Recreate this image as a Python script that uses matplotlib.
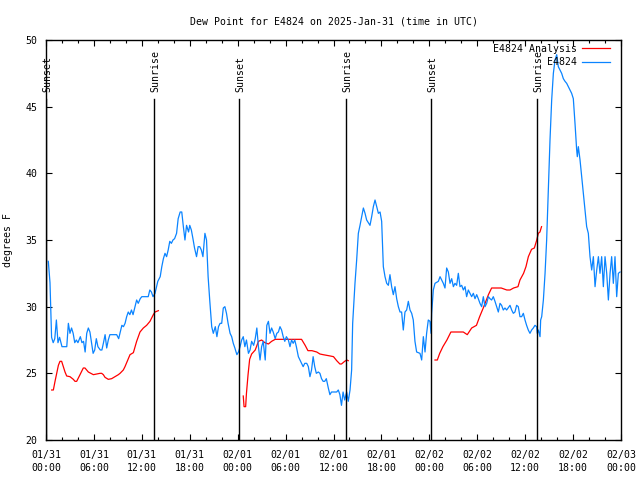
import numpy as np
import matplotlib
matplotlib.use("Agg")
import matplotlib.pyplot as plt

# ---- data (hours since 2025-01-31 00:00 UTC, dew point in F) ----
blue_h = [0.29, 0.5, 0.7, 0.9, 1.1, 1.3, 1.5, 1.7, 2.0, 2.6, 2.8, 3.0, 3.2, 3.4, 3.6, 3.8, 4.0,
          4.3, 4.5, 4.7, 4.9, 5.1, 5.3, 5.5, 5.7, 5.9, 6.1, 6.3, 6.5, 6.8, 7.0, 7.2, 7.4, 7.6,
          7.8, 8.0, 8.85, 9.1, 9.3, 9.5, 9.7, 9.9, 10.1, 10.3, 10.5, 10.7, 10.9, 11.1, 11.35,
          11.55, 11.8, 12.0, 12.8, 13.0, 13.2, 13.4, 13.65, 13.85, 14.0, 14.3, 14.5, 14.7,
          14.9, 15.1, 15.3, 15.5, 15.7, 15.9, 16.1, 16.35, 16.55, 16.8, 17.0, 17.2, 17.4,
          17.6, 17.85, 18.0, 18.2, 18.4, 18.6, 18.85, 19.05, 19.25, 19.45, 19.65, 19.9, 20.1,
          20.3, 20.5, 20.75, 20.95, 21.2, 21.4, 21.6, 21.8, 22.0, 22.2, 22.4, 22.6, 22.8,
          23.05, 23.25, 23.45, 23.65, 23.9, 24.1, 24.3, 24.5, 24.7, 24.9, 25.1, 25.35, 25.55,
          25.75, 26.0, 26.2, 26.4, 26.6, 26.8, 27.0, 27.2, 27.45, 27.65, 27.85, 28.05, 28.25,
          28.45, 28.7, 28.9, 29.1, 29.3, 29.5, 29.7, 29.9, 30.1, 30.35, 30.55, 30.75, 30.95,
          31.15, 31.35, 31.6, 31.8, 32.0, 32.2, 32.4, 32.65, 32.85, 33.05, 33.25, 33.45,
          33.65, 33.85, 34.1, 34.3, 34.5, 34.7, 34.9, 35.1, 35.35, 35.55, 35.75, 36.4, 36.6,
          36.8, 37.0, 37.2, 37.4, 37.65, 37.85, 38.07, 38.27, 38.4, 38.57, 38.69, 38.9,
          39.11, 39.32, 39.53, 39.74, 39.95, 40.15, 40.57, 40.78, 40.99, 41.2, 41.41, 41.62,
          41.83, 42.03, 42.24, 42.45, 42.66, 42.87, 43.07, 43.28, 43.49, 43.7, 43.91, 44.12,
          44.33, 44.53, 44.74, 44.95, 45.16, 45.37, 45.58, 45.79, 45.99, 46.2, 46.41, 46.83,
          47.04, 47.25, 47.46, 47.66, 47.87, 48.08, 48.21, 48.29, 48.5, 48.71, 49.13, 49.34,
          49.55, 49.75, 49.96, 50.17, 50.38, 50.59, 50.8, 51.01, 51.21, 51.42, 51.63, 51.84,
          52.05, 52.26, 52.47, 52.67, 52.88, 53.09, 53.3, 53.51, 53.72, 53.93, 54.13, 54.34,
          54.55, 54.76, 54.97, 55.18, 55.39, 55.59, 55.8, 56.01, 56.22, 56.43, 56.64, 56.85,
          57.05, 57.26, 57.47, 57.68, 58.1, 58.31, 58.52, 58.72, 58.93, 59.14, 59.35, 59.56,
          59.77, 59.98, 60.18, 60.39, 60.6, 60.81, 61.02, 61.23, 61.44, 61.52, 61.65, 61.86,
          61.94, 62.07, 62.28, 62.49, 62.69, 62.9, 63.11, 63.32, 63.53, 63.74, 63.95, 64.15,
          64.57, 64.78, 64.99, 65.2, 65.41, 65.62, 65.82, 66.03, 66.24, 66.45, 66.53, 66.66,
          66.87, 67.08, 67.28, 67.49, 67.7, 67.91, 68.12, 68.33, 68.54, 68.75, 68.96, 69.17,
          69.37, 69.58, 69.79, 70.0, 70.21, 70.42, 70.63, 70.83, 71.04, 71.25, 71.46, 71.67,
          71.88]
blue_v = [33.4, 31.8, 27.7, 27.3, 27.6, 29.0, 27.3, 27.7, 27.0, 27.0, 28.75, 28.0, 28.4, 28.0,
          27.3, 27.5, 27.3, 27.75, 27.3, 27.4, 26.6, 28.0, 28.4, 28.1, 27.3, 26.5, 26.75, 27.6,
          27.0, 26.75, 26.75, 27.3, 27.9, 26.9, 27.5, 27.9, 27.9, 27.6, 28.1, 28.6, 28.5,
          28.75, 29.25, 29.6, 29.4, 29.75, 29.4, 29.9, 30.5, 30.25, 30.6, 30.75, 30.75, 31.25,
          31.1, 30.75, 31.0, 31.5, 31.9, 32.25, 33.0, 33.6, 34.0, 33.75, 34.25, 34.9, 34.75,
          35.0, 35.1, 35.5, 36.6, 37.1, 37.1, 36.0, 35.0, 36.1, 35.6, 36.1, 35.75, 35.1, 34.4,
          33.75, 34.5, 34.5, 34.25, 33.75, 35.5, 35.0, 32.25, 30.5, 28.5, 28.0, 28.5, 27.75,
          28.5, 28.75, 28.75, 29.9, 30.0, 29.5, 28.75, 28.0, 27.75, 27.25, 26.9, 26.4, 26.6,
          27.0, 27.5, 27.75, 27.0, 27.5, 26.5, 26.75, 27.4, 27.1, 27.6, 28.4, 27.0, 26.0, 27.0,
          27.4, 26.0, 28.6, 28.9, 28.0, 28.4, 28.1, 27.6, 28.0, 28.1, 28.5, 28.25, 27.75, 27.4,
          27.75, 27.5, 27.0, 27.5, 27.25, 27.5, 27.0, 26.25, 26.0, 25.75, 25.5, 25.75, 25.75,
          25.5, 24.75, 25.25, 26.25, 25.5, 25.0, 25.1, 25.0, 24.6, 24.4, 24.4, 24.6, 23.9,
          23.4, 23.6, 23.6, 23.75, 23.4, 22.6, 23.6, 23.0, 23.6, 22.9, 23.75, 25.25, 28.75,
          30.5, 31.75, 33.5, 35.5, 36.1, 36.75, 37.4, 37.0, 36.5, 36.1, 36.75, 37.5, 38.0,
          37.5, 37.0, 37.1, 36.4, 33.0, 32.25, 31.75, 31.6, 32.4, 31.5, 30.9, 31.5, 30.6,
          30.0, 29.6, 29.6, 28.25, 29.6, 29.75, 30.4, 29.75, 29.5, 29.0, 27.4, 26.6, 26.5,
          26.0, 27.75, 26.6, 28.0, 29.0, 28.9, 28.0, 29.5, 31.25, 31.75, 31.9, 32.25, 32.0,
          31.75, 31.4, 32.9, 32.6, 31.75, 32.1, 31.5, 31.75, 31.6, 32.5, 31.5, 31.6, 31.25,
          31.5, 30.75, 31.25, 31.0, 30.75, 31.0, 30.6, 30.9, 30.6, 30.25, 30.0, 30.75, 30.0,
          30.25, 30.75, 30.6, 30.5, 30.75, 30.4, 30.0, 29.6, 30.25, 30.1, 29.75, 29.9, 29.75,
          30.1, 29.75, 29.5, 29.6, 30.1, 30.0, 29.25, 29.25, 29.5, 29.0, 28.6, 28.25, 28.0,
          28.25, 28.4, 28.6, 28.5, 28.0, 28.25, 27.75, 29.0, 29.25, 30.5, 32.5, 35.0, 38.75,
          42.5, 45.5, 47.5, 48.5, 48.9, 48.0, 47.5, 47.1, 46.9, 46.75, 46.5, 46.25, 46.0, 45.6,
          43.75, 41.75, 41.25, 42.0, 41.0, 39.75, 38.5, 37.25, 36.0, 35.5, 33.75, 32.75,
          33.75, 31.5, 32.75, 33.75, 32.5, 33.75, 31.5, 33.75, 32.5, 30.5, 32.5, 33.75, 31.75,
          33.75, 30.75, 32.5, 32.6]

red_h = [0.71, 0.92, 1.13, 1.34, 1.55, 1.75, 1.96, 2.17, 2.38, 2.59, 3.0, 3.42, 3.63, 3.84,
         4.26, 4.67, 4.88, 5.3, 5.93, 6.35, 6.76, 6.97, 7.18, 7.39, 7.8, 8.22, 8.64, 9.06,
         9.27, 9.68, 9.89, 10.31, 10.52, 10.94, 11.35, 11.77, 12.19, 12.6, 13.02, 13.44,
         13.65, 14.07, None,
         24.7, 24.8, 25.0, 25.1, 25.3, 25.5, 25.75, 26.2, 26.6, 27.0, 27.4, 27.85, 28.25,
         28.7, 29.3, 32.0, 32.45, 32.8, 33.3, 33.9, 34.3, 34.7, 35.6, 36.0, 36.4, 36.8, 37.0,
         37.4, 37.65, 37.85, None,
         48.71, 49.0, 49.3, 49.7, 50.2, 50.7, 51.2, 52.25, 52.75, 53.3, 53.9, 54.3, 54.75,
         55.4, 55.8, 56.2, 57.0, 57.7, 58.1, 58.55, 59.1, 59.35, 59.8, 60.1, 60.4, 60.8,
         61.15, 61.45, 61.65, 61.85, 62.05]
red_v = [23.75, 23.75, 24.4, 25.0, 25.6, 25.9, 25.9, 25.5, 25.1, 24.8, 24.75, 24.55, 24.4,
         24.4, 24.9, 25.4, 25.4, 25.1, 24.9, 24.95, 25.0, 25.0, 24.9, 24.7, 24.55, 24.6,
         24.75, 24.9, 25.0, 25.25, 25.5, 26.1, 26.4, 26.55, 27.4, 28.1, 28.4, 28.6, 28.9,
         29.4, 29.6, 29.7, None,
         23.3, 22.5, 22.5, 23.5, 24.9, 26.05, 26.45, 26.75, 27.4, 27.5, 27.3, 27.2, 27.4,
         27.55, 27.55, 27.55, 27.1, 26.7, 26.7, 26.6, 26.45, 26.4, 26.3, 26.25, 25.95, 25.7,
         25.7, 25.9, 26.0, 25.95, None,
         26.0, 26.0, 26.5, 27.0, 27.5, 28.1, 28.1, 28.1, 27.9, 28.4, 28.6, 29.25, 29.9, 30.9,
         31.4, 31.4, 31.4, 31.25, 31.25, 31.4, 31.5, 32.0, 32.5, 33.0, 33.75, 34.3, 34.4,
         35.0, 35.5, 35.6, 36.0]

sun_h = [0.05, 13.56, 24.2, 37.6, 48.25, 61.52]
sun_labels = ["Sunset", "Sunrise", "Sunset", "Sunrise", "Sunset", "Sunrise"]

tick_hours = list(range(0, 73, 6))
tick_labels = ["01/31\n00:00", "01/31\n06:00", "01/31\n12:00", "01/31\n18:00",
               "02/01\n00:00", "02/01\n06:00", "02/01\n12:00", "02/01\n18:00",
               "02/02\n00:00", "02/02\n06:00", "02/02\n12:00", "02/02\n18:00",
               "02/03\n00:00"]

title = "Dew Point for E4824 on 2025-Jan-31 (time in UTC)"

# ---- plotting ----
FONT = "DejaVu Sans Mono"
FS = 7.1
plt.rcParams["font.family"] = FONT

fig = plt.figure(figsize=(6.4, 4.8), dpi=100)
ax = fig.add_axes([46/640, 1-440/480, (621-46)/640, 400/480])

def arr(lst):
    return np.array([np.nan if v is None else v for v in lst], dtype=float)

ax.plot(arr(red_h), arr(red_v), color="#ff0000", lw=0.9, label="E4824 Analysis")
ax.plot(blue_h, blue_v, color="#0a84ff", lw=0.9, label="E4824")

for h, lab in zip(sun_h, sun_labels):
    ax.plot([h, h], [20, 45.6], color="black", lw=1.0)
    ax.text(h + 0.15, 46.1, lab, rotation=90, ha="center", va="bottom",
            fontsize=FS, family=FONT)

ax.set_xlim(0, 72)
ax.set_ylim(20, 50)
ax.set_xticks(tick_hours)
ax.set_xticklabels(tick_labels, fontsize=FS, linespacing=1.45)
ax.set_xticks(np.arange(0, 73, 2), minor=True)
ax.set_yticks(np.arange(20, 51, 5))
ax.set_yticklabels([str(v) for v in range(20, 51, 5)], fontsize=FS)
ax.tick_params(which="major", direction="in", length=4, width=0.8, top=True, right=True, pad=7)
ax.tick_params(which="minor", direction="in", length=2.2, width=0.8, top=True, right=True)
ax.tick_params(axis="y", pad=6)
for s in ax.spines.values():
    s.set_linewidth(1.0)

ax.set_ylabel("degrees F", fontsize=FS, labelpad=9)
ax.set_title(title, fontsize=FS, pad=11)

leg = ax.legend(loc="upper right", frameon=False, markerfirst=False, fontsize=FS,
                handlelength=2.9, handletextpad=0.5, labelspacing=0.35,
                borderaxespad=0.2, borderpad=0.2, bbox_to_anchor=(0.988, 1.0))
for t in leg.get_texts():
    t.set_ha("right")

fig.savefig("out.png", dpi=100)
